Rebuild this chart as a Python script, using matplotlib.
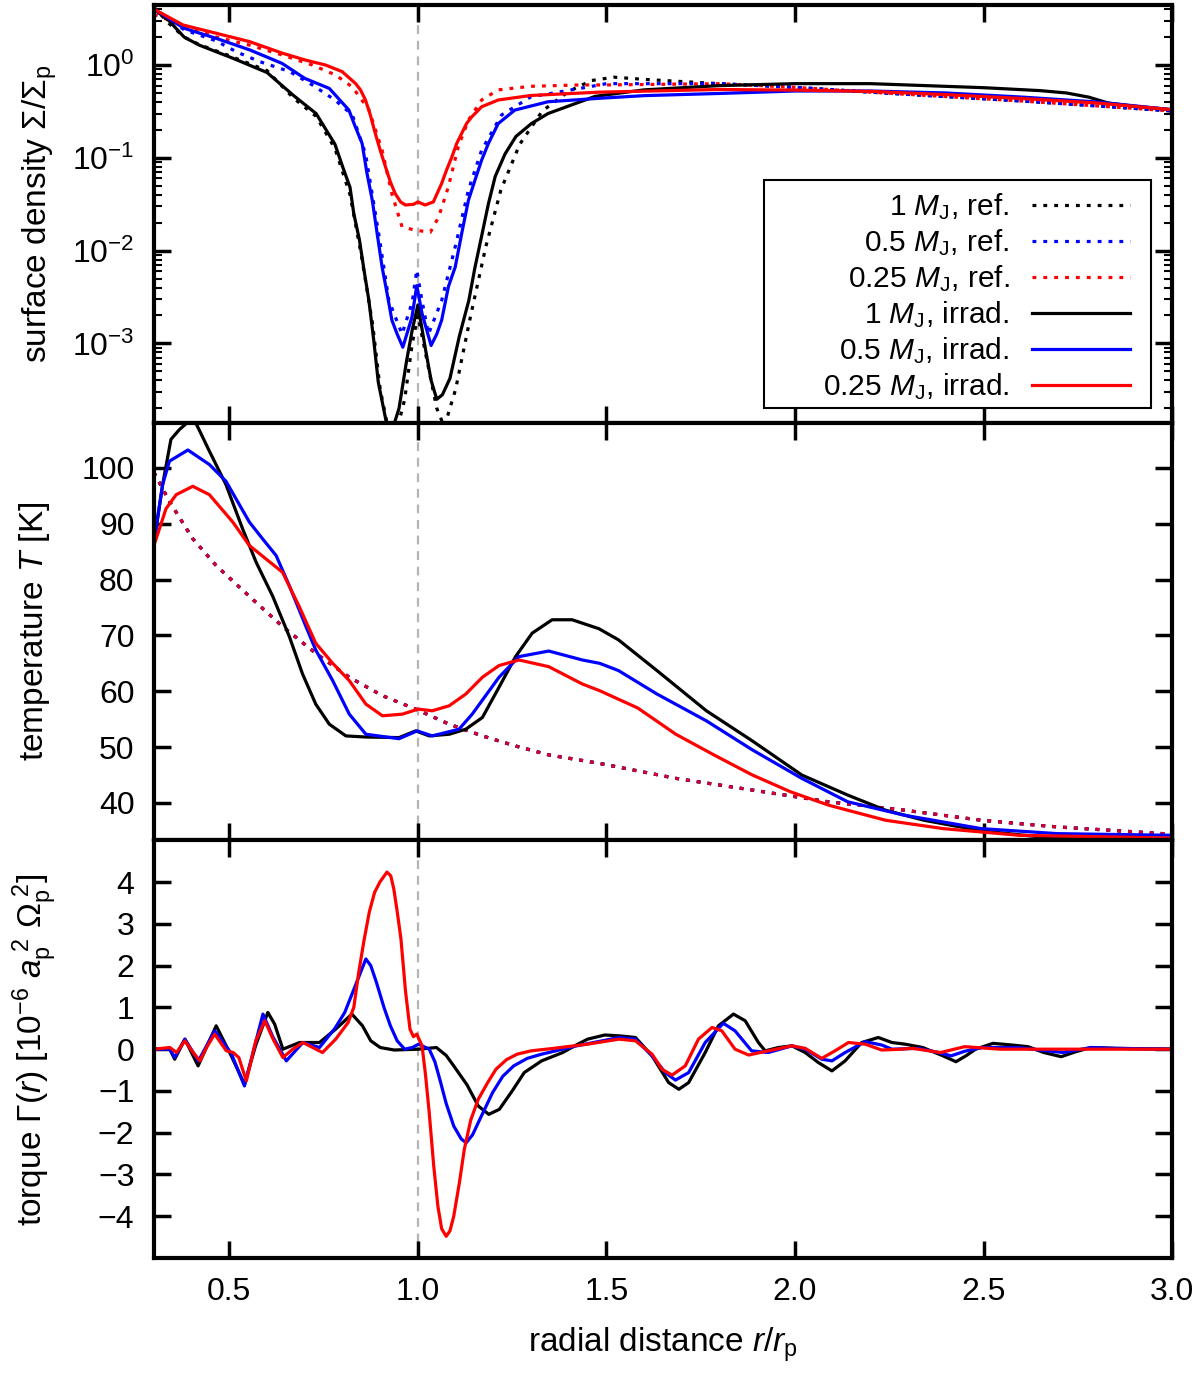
import matplotlib
matplotlib.use("Agg")
import matplotlib.pyplot as plt
from matplotlib.patches import Rectangle

plt.rcParams["font.family"] = ["Liberation Sans", "DejaVu Sans"]
plt.rcParams["mathtext.fontset"] = "custom"
plt.rcParams["mathtext.rm"] = "Liberation Sans"
plt.rcParams["mathtext.it"] = "Liberation Sans:italic"
plt.rcParams["mathtext.bf"] = "Liberation Sans:bold"
plt.rcParams["font.size"] = 24

# --- surface density (top panel) ---
r_sig_ref_1 = [0.30, 0.34, 0.38, 0.42, 0.50, 0.60, 0.67, 0.73, 0.78, 0.82, 0.85, 0.88, 0.90, 0.92,
               0.94, 0.965, 0.985, 1.0, 1.02, 1.05, 1.07, 1.10, 1.14, 1.18, 1.22, 1.27, 1.33, 1.40,
               1.46, 1.52, 1.6, 1.8, 2.0, 2.2, 2.4, 2.6, 2.8, 3.0]
sig_ref_1 = [4.2, 2.8, 2.0, 1.66, 1.26, 0.87, 0.44, 0.28, 0.126, 0.040, 8.9e-3, 1.6e-3, 3.2e-4, 1.26e-4,
             1.0e-4, 2.5e-4, 1.0e-3, 2.0e-3, 7.9e-4, 2.0e-4, 1.26e-4, 3.2e-4, 2.0e-3, 0.011, 0.045,
             0.14, 0.32, 0.52, 0.68, 0.74, 0.70, 0.63, 0.575, 0.51, 0.457, 0.41, 0.363, 0.32]

r_sig_ref_05 = [0.30, 0.38, 0.465, 0.52, 0.58, 0.66, 0.72, 0.78, 0.826, 0.861, 0.896, 0.923, 0.958,
                0.985, 0.997, 1.01, 1.028, 1.063, 1.099, 1.134, 1.169, 1.222, 1.30, 1.43, 1.5, 1.8,
                2.0, 2.2, 2.4, 2.6, 2.8, 3.0]
sig_ref_05 = [4.0, 2.4, 1.82, 1.38, 1.09, 0.85, 0.61, 0.42, 0.29, 0.111, 0.0152, 2.9e-3, 1.26e-3,
              2.8e-3, 6.2e-3, 3.0e-3, 1.26e-3, 2.9e-3, 0.011, 0.045, 0.121, 0.29, 0.455, 0.56, 0.63,
              0.63, 0.575, 0.51, 0.457, 0.41, 0.363, 0.32]

r_sig_ref_025 = [0.30, 0.465, 0.553, 0.641, 0.72, 0.782, 0.826, 0.87, 0.905, 0.931, 0.958, 0.993,
                 1.033, 1.055, 1.081, 1.107, 1.134, 1.169, 1.213, 1.30, 1.43, 1.5, 1.8, 2.0, 2.2,
                 2.4, 2.6, 2.8, 3.0]
sig_ref_025 = [3.5, 2.0, 1.64, 1.28, 1.0, 0.78, 0.58, 0.33, 0.121, 0.041, 0.018, 0.0166, 0.0158,
               0.023, 0.049, 0.132, 0.255, 0.42, 0.54, 0.59, 0.61, 0.61, 0.63, 0.575, 0.51, 0.457,
               0.41, 0.363, 0.32]

r_sig_irr_1 = [0.30, 0.34, 0.38, 0.42, 0.51, 0.60, 0.67, 0.73, 0.78, 0.80, 0.82, 0.83, 0.845, 0.857,
               0.87, 0.883, 0.895, 0.915, 0.93, 0.95, 0.97, 0.985, 1.0, 1.02, 1.035, 1.05, 1.065,
               1.085, 1.11, 1.135, 1.151, 1.17, 1.187, 1.205, 1.231, 1.26, 1.301, 1.345, 1.47, 1.6,
               1.8, 2.0, 2.2, 2.5, 2.65, 2.72, 2.78, 2.83, 2.9, 3.0]
sig_irr_1 = [4.0, 3.0, 2.0, 1.64, 1.18, 0.83, 0.47, 0.30, 0.14, 0.081, 0.048, 0.025, 0.013, 6.2e-3,
             2.9e-3, 1.07e-3, 3.8e-4, 1.5e-4, 1.1e-4, 2.0e-4, 6.5e-4, 1.4e-3, 2.6e-3, 8.7e-4,
             4.0e-4, 2.5e-4, 2.8e-4, 4.2e-4, 1.2e-3, 2.9e-3, 6.5e-3, 0.015, 0.032, 0.063, 0.11, 0.17,
             0.234, 0.30, 0.46, 0.54, 0.60, 0.63, 0.63, 0.57, 0.53, 0.50, 0.45, 0.39, 0.36, 0.33]

r_sig_irr_05 = [0.30, 0.38, 0.465, 0.555, 0.64, 0.70, 0.765, 0.817, 0.834, 0.852, 0.865, 0.879,
                0.892, 0.905, 0.918, 0.931, 0.945, 0.96, 0.984, 0.997, 1.011, 1.035, 1.05, 1.063,
                1.081, 1.099, 1.116, 1.134, 1.151, 1.169, 1.187, 1.213, 1.257, 1.345, 1.477, 1.6,
                1.8, 2.0, 2.2, 2.4, 2.6, 2.8, 3.0]
sig_irr_05 = [4.0, 2.49, 1.94, 1.45, 1.04, 0.718, 0.56, 0.327, 0.216, 0.143, 0.068, 0.0349, 0.0152,
              6.67e-3, 3.5e-3, 1.78e-3, 1.26e-3, 9.1e-4, 1.9e-3, 4.2e-3, 2.1e-3, 9.5e-4, 1.26e-3,
              1.78e-3, 4.1e-3, 6.67e-3, 0.0152, 0.0349, 0.057, 0.0944, 0.143, 0.234, 0.327, 0.402,
              0.437, 0.468, 0.494, 0.525, 0.525, 0.50, 0.452, 0.40, 0.33]

r_sig_irr_025 = [0.30, 0.377, 0.465, 0.553, 0.641, 0.702, 0.755, 0.799, 0.835, 0.848, 0.861, 0.874,
                 0.887, 0.90, 0.914, 0.927, 0.94, 0.954, 0.967, 0.989, 1.0, 1.019, 1.041, 1.063,
                 1.076, 1.09, 1.103, 1.116, 1.129, 1.143, 1.156, 1.169, 1.213, 1.30, 1.48, 1.8, 2.0,
                 2.2, 2.4, 2.6, 2.8, 3.0]
sig_irr_025 = [4.0, 2.7, 2.2, 1.79, 1.34, 1.13, 1.0, 0.85, 0.63, 0.537, 0.42, 0.288, 0.183, 0.121,
               0.080, 0.055, 0.041, 0.0335, 0.031, 0.0316, 0.0335, 0.031, 0.0335, 0.053, 0.074,
               0.102, 0.143, 0.183, 0.234, 0.277, 0.313, 0.355, 0.42, 0.47, 0.51, 0.545, 0.537,
               0.52, 0.48, 0.436, 0.39, 0.33]

# --- temperature (middle panel) ---
r_temp_ref = [0.30, 0.341, 0.403, 0.465, 0.553, 0.641, 0.729, 0.818, 0.906, 0.994, 1.083, 1.171,
              1.259, 1.347, 1.48, 1.684, 1.887, 2.089, 2.29, 2.494, 2.696, 3.0]
temp_ref = [99.2, 94.0, 87.3, 82.5, 77.0, 71.6, 66.8, 62.5, 59.2, 56.8, 54.1, 52.0, 50.2, 48.6,
            47.1, 44.4, 42.3, 40.2, 38.7, 36.9, 35.7, 34.4]

r_temp_irr_1 = [0.30, 0.323, 0.345, 0.368, 0.39, 0.412, 0.447, 0.491, 0.535, 0.571, 0.615, 0.659,
                0.694, 0.729, 0.765, 0.809, 0.862, 0.95, 0.994, 1.03, 1.083, 1.127, 1.171, 1.215,
                1.259, 1.303, 1.356, 1.409, 1.48, 1.532, 1.634, 1.765, 1.887, 2.018, 2.14, 2.24,
                2.342, 2.494, 2.696, 3.0]
temp_irr_1 = [86.5, 97.0, 105.1, 106.9, 108.2, 107.9, 103.0, 97.0, 89.1, 83.1, 77.0, 69.8, 63.1,
              57.7, 54.1, 52.0, 51.8, 51.7, 52.9, 52.0, 52.3, 53.2, 55.3, 60.7, 66.2, 70.4, 72.8,
              72.8, 71.2, 69.2, 63.7, 56.5, 51.1, 45.0, 41.4, 38.7, 36.9, 35.0, 33.6, 33.4]

r_temp_irr_05 = [0.30, 0.323, 0.341, 0.39, 0.447, 0.491, 0.553, 0.588, 0.624, 0.659, 0.703, 0.729,
                 0.774, 0.818, 0.862, 0.95, 0.998, 1.038, 1.109, 1.144, 1.215, 1.268, 1.347, 1.436,
                 1.482, 1.532, 1.634, 1.765, 1.887, 2.018, 2.14, 2.29, 2.494, 2.696, 3.0]
temp_irr_05 = [86.8, 97.0, 101.2, 103.2, 100.6, 97.6, 90.3, 87.3, 84.3, 78.9, 71.6, 67.4, 61.9,
               55.9, 52.3, 51.5, 52.9, 52.0, 53.2, 55.9, 62.5, 66.2, 67.2, 65.6, 65.0, 63.7, 59.5,
               54.7, 49.5, 44.4, 40.2, 37.8, 35.4, 34.5, 34.2]

r_temp_irr_025 = [0.30, 0.332, 0.359, 0.403, 0.447, 0.509, 0.553, 0.597, 0.641, 0.685, 0.729,
                  0.774, 0.818, 0.862, 0.906, 0.959, 1.001, 1.038, 1.083, 1.127, 1.171, 1.215,
                  1.268, 1.347, 1.436, 1.482, 1.583, 1.684, 1.785, 1.887, 1.988, 2.089, 2.24,
                  2.393, 2.595, 3.0]
temp_irr_025 = [86.1, 92.7, 95.2, 96.7, 95.2, 90.3, 86.1, 83.7, 81.3, 75.2, 68.6, 65.0, 61.9, 57.7,
                55.6, 55.9, 56.8, 56.5, 57.4, 59.5, 62.5, 64.6, 65.6, 64.4, 61.3, 60.1, 57.0, 52.3,
                48.6, 45.0, 42.0, 39.6, 36.9, 35.4, 34.2, 33.7]

# --- torque (bottom panel) ---
r_torq_1 = [0.30, 0.342, 0.355, 0.382, 0.417, 0.465, 0.505, 0.54, 0.57, 0.602, 0.62, 0.642, 0.686,
            0.739, 0.782, 0.825, 0.853, 0.875, 0.90, 0.937, 1.002, 1.049, 1.075, 1.095, 1.13, 1.16,
            1.188, 1.216, 1.25, 1.282, 1.328, 1.384, 1.42, 1.45, 1.496, 1.533, 1.577, 1.621, 1.665,
            1.692, 1.718, 1.762, 1.797, 1.837, 1.868, 1.903, 1.921, 1.956, 1.992, 2.027, 2.062,
            2.098, 2.133, 2.177, 2.221, 2.257, 2.292, 2.339, 2.39, 2.427, 2.455, 2.479, 2.525,
            2.575, 2.618, 2.66, 2.706, 2.745, 2.785, 2.85, 3.0]
torq_1 = [0.0, 0.0, -0.24, 0.24, -0.4, 0.56, -0.16, -0.84, 0.1, 0.88, 0.6, 0.0, 0.16, 0.16, 0.48,
          0.84, 0.56, 0.2, 0.04, -0.02, 0.0, 0.04, -0.15, -0.4, -0.85, -1.36, -1.56, -1.44, -1.0,
          -0.56, -0.28, -0.08, 0.1, 0.24, 0.34, 0.32, 0.28, -0.16, -0.8, -0.96, -0.8, -0.08, 0.56,
          0.84, 0.68, 0.16, -0.04, 0.04, 0.08, -0.08, -0.32, -0.52, -0.28, 0.16, 0.28, 0.16, 0.12,
          0.04, -0.15, -0.3, -0.15, 0.0, 0.14, 0.1, 0.06, -0.08, -0.18, -0.06, 0.04, 0.02, 0.0]

r_torq_05 = [0.30, 0.342, 0.355, 0.382, 0.418, 0.461, 0.505, 0.54, 0.565, 0.589, 0.615, 0.651,
             0.695, 0.739, 0.78, 0.806, 0.834, 0.862, 0.875, 0.89, 0.91, 0.927, 0.945, 0.965,
             0.985, 1.002, 1.03, 1.045, 1.058, 1.075, 1.095, 1.115, 1.128, 1.145, 1.16, 1.198,
             1.225, 1.254, 1.29, 1.328, 1.421, 1.5, 1.533, 1.577, 1.621, 1.656, 1.683, 1.718,
             1.762, 1.81, 1.841, 1.885, 1.929, 1.992, 2.027, 2.071, 2.098, 2.133, 2.186, 2.23,
             2.257, 2.327, 2.38, 2.414, 2.45, 2.497, 2.59, 2.65, 2.711, 2.785, 2.85, 3.0]
torq_05 = [0.0, 0.0, -0.2, 0.24, -0.28, 0.44, -0.1, -0.88, 0.0, 0.84, 0.3, -0.28, 0.16, 0.04, 0.5,
           0.88, 1.52, 2.16, 2.0, 1.6, 1.0, 0.56, 0.2, 0.0, 0.04, 0.12, 0.0, -0.3, -0.72, -1.3,
           -1.84, -2.15, -2.24, -2.05, -1.76, -1.04, -0.65, -0.4, -0.22, -0.12, 0.08, 0.22, 0.28,
           0.24, -0.16, -0.56, -0.74, -0.56, 0.16, 0.62, 0.44, -0.04, -0.08, 0.08, 0.0, -0.24,
           -0.28, -0.08, 0.18, 0.1, 0.0, 0.02, -0.08, -0.16, -0.05, 0.04, 0.04, -0.02, -0.08, 0.04,
           0.02, 0.0]

r_torq_025 = [0.30, 0.342, 0.36, 0.382, 0.404, 0.422, 0.44, 0.461, 0.492, 0.51, 0.525, 0.545,
              0.57, 0.594, 0.616, 0.642, 0.668, 0.695, 0.721, 0.747, 0.782, 0.815, 0.83, 0.843,
              0.857, 0.871, 0.885, 0.899, 0.918, 0.928, 0.936, 0.945, 0.955, 0.967, 0.979, 0.988,
              0.997, 1.011, 1.02, 1.03, 1.042, 1.053, 1.063, 1.075, 1.085, 1.095, 1.11, 1.123,
              1.14, 1.16, 1.185, 1.207, 1.235, 1.263, 1.30, 1.356, 1.45, 1.533, 1.577, 1.621,
              1.647, 1.674, 1.709, 1.744, 1.78, 1.806, 1.841, 1.877, 1.929, 1.992, 2.027, 2.071,
              2.106, 2.142, 2.186, 2.23, 2.283, 2.311, 2.386, 2.45, 2.544, 3.0]
torq_025 = [0.0, 0.04, -0.08, 0.2, -0.08, -0.28, 0.05, 0.36, -0.04, -0.08, -0.2, -0.76, 0.2, 0.68,
            0.24, -0.2, 0.0, 0.16, 0.04, -0.08, 0.24, 0.64, 1.0, 1.84, 2.6, 3.28, 3.75, 4.0, 4.24,
            4.15, 3.84, 3.3, 2.64, 1.4, 0.48, 0.3, 0.36, 0.08, -0.6, -1.52, -2.8, -3.76, -4.3,
            -4.48, -4.35, -4.0, -3.2, -2.4, -1.7, -1.2, -0.8, -0.48, -0.25, -0.12, -0.04, 0.016,
            0.12, 0.24, 0.2, -0.12, -0.48, -0.62, -0.4, 0.24, 0.52, 0.44, 0.0, -0.14, -0.04, 0.08,
            0.02, -0.22, -0.04, 0.16, 0.12, -0.02, 0.0, 0.02, -0.08, 0.06, 0.0, 0.0]

BLACK, BLUE, RED = "#000000", "#0000ff", "#ff0000"
DOT = (0, (1.2, 2.2))
LW = 2.3

fig, axes = plt.subplots(3, 1, figsize=(12, 13.77), dpi=100, sharex=True)
fig.subplots_adjust(left=0.1283, right=0.9767, top=0.9964, bottom=0.0864, hspace=0)
ax_sig, ax_temp, ax_torq = axes

for ax in axes:
    ax.axvline(1.0, color="#b5b5b5", ls=(0, (4, 3)), lw=1.6, zorder=0)
    ax.tick_params(which="both", direction="in", top=True, right=True)
    ax.tick_params(which="major", length=12, width=2.5, labelsize=23, pad=14)
    ax.tick_params(which="minor", length=6, width=1.5)
    for s in ax.spines.values():
        s.set_linewidth(3)

# surface density
ax_sig.plot(r_sig_ref_1, sig_ref_1, color=BLACK, ls=DOT, lw=LW, label=r"1 $M_\mathrm{J}$, ref.")
ax_sig.plot(r_sig_ref_05, sig_ref_05, color=BLUE, ls=DOT, lw=LW, label=r"0.5 $M_\mathrm{J}$, ref.")
ax_sig.plot(r_sig_ref_025, sig_ref_025, color=RED, ls=DOT, lw=LW, label=r"0.25 $M_\mathrm{J}$, ref.")
ax_sig.plot(r_sig_irr_1, sig_irr_1, color=BLACK, lw=LW, label=r"1 $M_\mathrm{J}$, irrad.")
ax_sig.plot(r_sig_irr_05, sig_irr_05, color=BLUE, lw=LW, label=r"0.5 $M_\mathrm{J}$, irrad.")
ax_sig.plot(r_sig_irr_025, sig_irr_025, color=RED, lw=LW, label=r"0.25 $M_\mathrm{J}$, irrad.")
ax_sig.set_yscale("log")
ax_sig.set_ylim(1.4e-4, 4.44)
ax_sig.set_ylabel(r"surface density $\Sigma/\Sigma_\mathrm{p}$")

# gnuplot-style key: wide box, right-aligned entries
ax_sig.add_patch(Rectangle((0.599, 0.036), 0.38, 0.544, transform=ax_sig.transAxes,
                           facecolor="white", edgecolor="black", lw=1.5, zorder=4))
leg = ax_sig.legend(loc="lower right", bbox_to_anchor=(0.959, 0.05), borderaxespad=0,
                    borderpad=0, markerfirst=False, frameon=False, fontsize=21.5,
                    handlelength=3.3, labelspacing=0.17, handletextpad=0.75)
leg.set_zorder(5)

# temperature
ax_temp.plot(r_temp_ref, temp_ref, color=BLACK, ls=DOT, lw=LW)
ax_temp.plot(r_temp_ref, temp_ref, color=BLUE, ls=DOT, lw=LW)
ax_temp.plot(r_temp_ref, temp_ref, color=RED, ls=DOT, lw=LW, alpha=0.85)
ax_temp.plot(r_temp_irr_1, temp_irr_1, color=BLACK, lw=LW)
ax_temp.plot(r_temp_irr_05, temp_irr_05, color=BLUE, lw=LW)
ax_temp.plot(r_temp_irr_025, temp_irr_025, color=RED, lw=LW)
ax_temp.set_ylim(33.3, 108.1)
ax_temp.set_yticks([40, 50, 60, 70, 80, 90, 100])
ax_temp.set_ylabel(r"temperature $T$ [K]")

# torque
ax_torq.plot(r_torq_1, torq_1, color=BLACK, lw=LW)
ax_torq.plot(r_torq_05, torq_05, color=BLUE, lw=LW)
ax_torq.plot(r_torq_025, torq_025, color=RED, lw=LW)
ax_torq.set_ylim(-5, 5)
ax_torq.set_yticks(range(-4, 5))
ax_torq.set_ylabel(r"torque $\Gamma(r)$ [10$^{-6}$ $a_\mathrm{p}^{\ 2}$ $\Omega_\mathrm{p}^{\ 2}$]")

ax_torq.set_xlim(0.3, 3.0)
ax_torq.set_xticks([0.5, 1.0, 1.5, 2.0, 2.5, 3.0])
ax_torq.set_xticklabels(["0.5", "1.0", "1.5", "2.0", "2.5", "3.0"])
ax_torq.set_xlabel(r"radial distance $r/r_\mathrm{p}$", labelpad=13)

ax_sig.yaxis.set_label_coords(-0.093, 0.5)
ax_temp.yaxis.set_label_coords(-0.100, 0.5)
ax_torq.yaxis.set_label_coords(-0.093, 0.5)

fig.savefig("out.png", dpi=100)
